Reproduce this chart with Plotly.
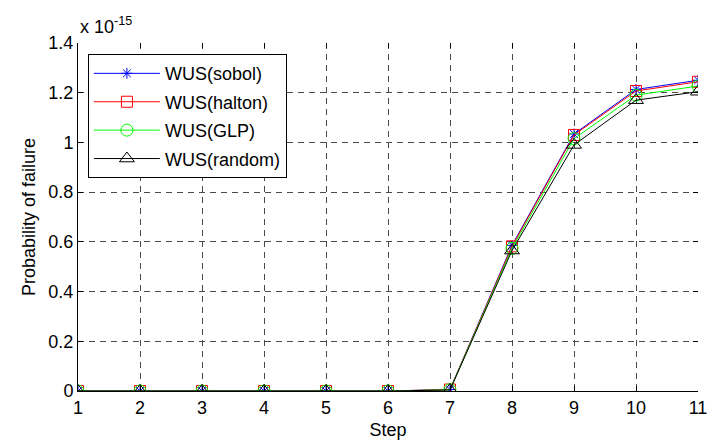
import plotly.graph_objects as go

steps = [1, 2, 3, 4, 5, 6, 7, 8, 9, 10, 11]
sobol = [0, 0, 0, 0, 0, 0, 0.006, 0.586, 1.034, 1.213, 1.250]
halton = [0, 0, 0, 0, 0, 0, 0.006, 0.582, 1.030, 1.207, 1.244]
glp = [0, 0, 0, 0, 0, 0, 0.005, 0.574, 1.015, 1.190, 1.227]
rand_ = [0, 0, 0, 0, 0, 0, 0.004, 0.565, 0.990, 1.170, 1.204]
y_ticks = [0, 0.2, 0.4, 0.6, 0.8, 1.0, 1.2, 1.4]
y_ticktext = ["0", "0.2", "0.4", "0.6", "0.8", "1", "1.2", "1.4"]

FONT = "Liberation Sans, Arial, sans-serif"
FS = 18

series = [
    ("WUS(sobol)", sobol, "#0000ff", "asterisk-open", 9),
    ("WUS(halton)", halton, "#ff0000", "square-open", 11),
    ("WUS(GLP)", glp, "#00ff00", "circle-open", 12),
    ("WUS(random)", rand_, "#000000", "triangle-up-open", 13),
]

fig = go.Figure()
for name, vals, col, sym, sz in series:
    fig.add_trace(go.Scatter(
        x=steps, y=vals, name=name, mode="lines+markers", legendgroup=name,
        line=dict(color=col, width=1),
        marker=dict(symbol=sym, size=sz, color=col, line=dict(color=col, width=1)),
    ))

# invisible trace for mirrored tick axes
fig.add_trace(go.Scatter(x=[], y=[], xaxis="x2", yaxis="y2", showlegend=False, hoverinfo="skip"))

grid = dict(showgrid=True, gridcolor="#4a4a4a", gridwidth=1, griddash="6px,5px")

fig.update_layout(
    width=709, height=443,
    margin=dict(l=78, r=11, t=43, b=52),
    paper_bgcolor="white", plot_bgcolor="white",
    font=dict(family=FONT, size=FS, color="black"),
    xaxis=dict(range=[1, 11], tickvals=steps, ticks="inside", ticklen=5, tickcolor="black",
               showline=True, linecolor="black", linewidth=1, zeroline=False,
               ticklabeloverflow="allow", automargin=False,
               title=dict(text="Step", font=dict(size=FS), standoff=6),
               tickfont=dict(size=FS), **grid),
    yaxis=dict(range=[0, 1.4], tickvals=y_ticks, ticktext=y_ticktext, ticks="inside", ticklen=5,
               tickcolor="black", showline=True, linecolor="black", linewidth=1, zeroline=False,
               ticklabeloverflow="allow", automargin=False,
               title=dict(text="Probability of failure", font=dict(size=FS), standoff=8),
               tickfont=dict(size=FS), **grid),
    xaxis2=dict(range=[1, 11], tickvals=steps, overlaying="x", side="top", anchor="y",
                ticks="inside", ticklen=5, tickcolor="black", showticklabels=False,
                showgrid=False, showline=False, zeroline=False, automargin=False),
    yaxis2=dict(range=[0, 1.4], tickvals=y_ticks, overlaying="y", side="right", anchor="x",
                ticks="inside", ticklen=5, tickcolor="black", showticklabels=False,
                showgrid=False, showline=False, zeroline=False, automargin=False),
    legend=dict(x=0.016, y=0.968, xanchor="left", yanchor="top",
                bgcolor="white", bordercolor="black", borderwidth=1,
                itemwidth=66,
                font=dict(family=FONT, size=FS), tracegroupgap=2),
    showlegend=True,
    annotations=[dict(text="x 10<sup>-15</sup>", xref="paper", yref="paper", x=0, y=1,
                      xanchor="left", yanchor="bottom", yshift=4, showarrow=False,
                      font=dict(family=FONT, size=FS))],
)

fig.write_html("out.html")
